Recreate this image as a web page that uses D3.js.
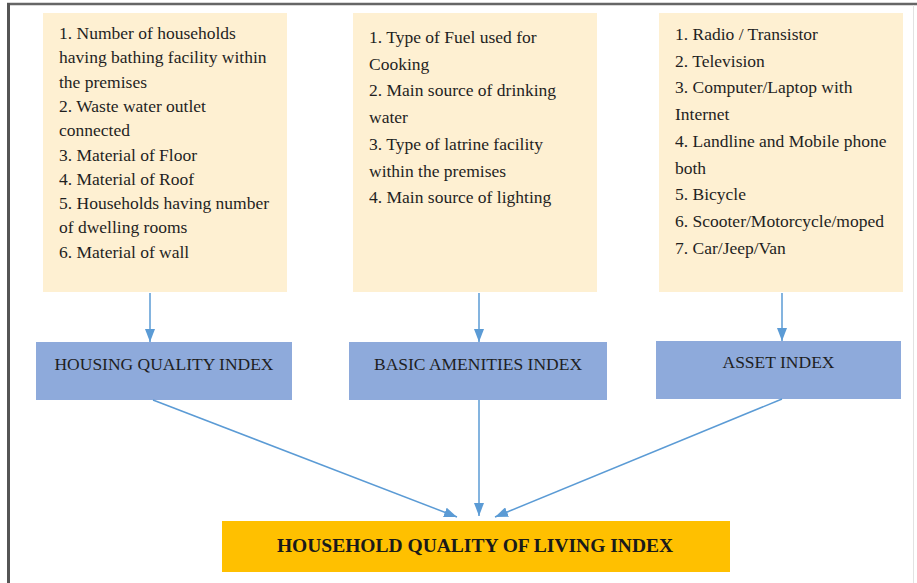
<!DOCTYPE html>
<html>
<head>
<meta charset="utf-8">
<script src="https://cdn.jsdelivr.net/npm/d3@7"></script>
<style>
  body { margin: 0; background: #fff; }
  svg { display: block; }
  .src { font-family: "Liberation Serif", "Times New Roman", serif; font-size: 17.5px; fill: #1f1f1f; }
  .idx { font-family: "Liberation Serif", "Times New Roman", serif; font-size: 17.5px; fill: #1f1f1f; }
  .final { font-family: "Liberation Serif", "Times New Roman", serif; font-size: 19.5px; font-weight: bold; fill: #1a1a1a; }
</style>
</head>
<body>
<div id="chart"></div>
<script>
// indicator lists, as wrapped in the picture
var housingItems = [
  "1. Number of households",
  "having bathing facility within",
  "the premises",
  "2. Waste water outlet",
  "connected",
  "3. Material of Floor",
  "4. Material of Roof",
  "5. Households having number",
  "of dwelling rooms",
  "6. Material of wall"
];
var amenityItems = [
  "1. Type of Fuel used for",
  "Cooking",
  "2. Main source of drinking",
  "water",
  "3. Type of latrine facility",
  "within the premises",
  "4. Main source of lighting"
];
var assetItems = [
  "1. Radio / Transistor",
  "2. Television",
  "3. Computer/Laptop with",
  "Internet",
  "4. Landline and Mobile phone",
  "both",
  "5. Bicycle",
  "6. Scooter/Motorcycle/moped",
  "7. Car/Jeep/Van"
];
var indexNames = ["HOUSING QUALITY INDEX", "BASIC AMENITIES INDEX", "ASSET INDEX"];
var finalName = "HOUSEHOLD QUALITY OF LIVING INDEX";

var width = 917, height = 583;
var arrowColor = "#5b9bd5";

// layout per column (left edge of list box, list line step, first baseline, index box, arrow x)
var layout = [
  {boxX: 43,  lineStep: 24.3, firstLine: 39, idxX: 36,  idxW: 256, idxY: 342, textY: 370, arrowX: 150, outX: 153},
  {boxX: 353, lineStep: 26.7, firstLine: 43, idxX: 349, idxW: 258, idxY: 342, textY: 370, arrowX: 479, outX: 479},
  {boxX: 659, lineStep: 26.7, firstLine: 40, idxX: 656, idxW: 245, idxY: 341, textY: 368, arrowX: 782, outX: 782}
];
var columns = [housingItems, amenityItems, assetItems];

var svg = d3.select("#chart").append("svg")
    .attr("width", width)
    .attr("height", height);

var defs = svg.append("defs");
defs.append("marker")
    .attr("id", "head")
    .attr("viewBox", "0 0 13 10")
    .attr("refX", 13).attr("refY", 5)
    .attr("markerWidth", 13).attr("markerHeight", 10)
    .attr("markerUnits", "userSpaceOnUse")
    .attr("orient", "auto")
  .append("path")
    .attr("d", "M0,0L13,5L0,10Z")
    .attr("fill", arrowColor);

// frame
svg.append("line").attr("x1", 7).attr("x2", width).attr("y1", 4).attr("y2", 4)
    .attr("stroke", "#666").attr("stroke-width", 2.5);
svg.append("line").attr("x1", 8.5).attr("x2", 8.5).attr("y1", 3).attr("y2", height)
    .attr("stroke", "#555").attr("stroke-width", 3);
svg.append("line").attr("x1", 913.5).attr("x2", 913.5).attr("y1", 5).attr("y2", height)
    .attr("stroke", "#e2e2e2").attr("stroke-width", 1);

// list boxes
var boxW = 244, boxY = 13, boxH = 279;
var cols = svg.selectAll("g.col")
    .data(columns)
    .enter().append("g")
    .attr("class", "col");

cols.append("rect")
    .attr("x", function(d, i) { return layout[i].boxX; })
    .attr("y", boxY)
    .attr("width", boxW)
    .attr("height", boxH)
    .attr("fill", "#fef0d2");

cols.each(function(items, i) {
  var L = layout[i];
  var y = d3.scaleLinear().domain([0, 1]).range([L.firstLine, L.firstLine + L.lineStep]);
  d3.select(this).selectAll("text")
      .data(items)
      .enter().append("text")
      .attr("class", "src")
      .attr("x", L.boxX + 16)
      .attr("y", function(d, j) { return y(j); })
      .text(function(d) { return d; });
});

// index boxes
var idxH = 58;
var idx = svg.selectAll("g.idx")
    .data(indexNames)
    .enter().append("g");
idx.append("rect")
    .attr("x", function(d, i) { return layout[i].idxX; })
    .attr("y", function(d, i) { return layout[i].idxY; })
    .attr("width", function(d, i) { return layout[i].idxW; })
    .attr("height", idxH)
    .attr("fill", "#8eaadb");
idx.append("text")
    .attr("class", "idx")
    .attr("text-anchor", "middle")
    .attr("x", function(d, i) { return layout[i].idxX + layout[i].idxW / 2; })
    .attr("y", function(d, i) { return layout[i].textY; })
    .text(function(d) { return d; });

// final box
var fin = {x: 222, y: 521, w: 508, h: 51};
svg.append("rect")
    .attr("x", fin.x).attr("y", fin.y)
    .attr("width", fin.w).attr("height", fin.h)
    .attr("fill", "#ffc000");
svg.append("text")
    .attr("class", "final")
    .attr("text-anchor", "middle")
    .attr("x", fin.x + fin.w / 2 - 1)
    .attr("y", 552)
    .text(finalName);

// arrows: list -> index
svg.selectAll("line.down")
    .data(layout)
    .enter().append("line")
    .attr("class", "down")
    .attr("x1", function(d) { return d.arrowX; })
    .attr("x2", function(d) { return d.arrowX; })
    .attr("y1", boxY + boxH + 1)
    .attr("y2", function(d) { return d.idxY; })
    .attr("stroke", arrowColor)
    .attr("stroke-width", 1.5)
    .attr("marker-end", "url(#head)");

// arrows: index -> final
var targets = [[457, 517], [479, 516], [495, 517]];
svg.selectAll("line.join")
    .data(layout)
    .enter().append("line")
    .attr("class", "join")
    .attr("x1", function(d) { return d.outX; })
    .attr("y1", function(d) { return d.idxY + idxH; })
    .attr("x2", function(d, i) { return targets[i][0]; })
    .attr("y2", function(d, i) { return targets[i][1]; })
    .attr("stroke", arrowColor)
    .attr("stroke-width", 1.5)
    .attr("marker-end", "url(#head)");
</script>
</body>
</html>
